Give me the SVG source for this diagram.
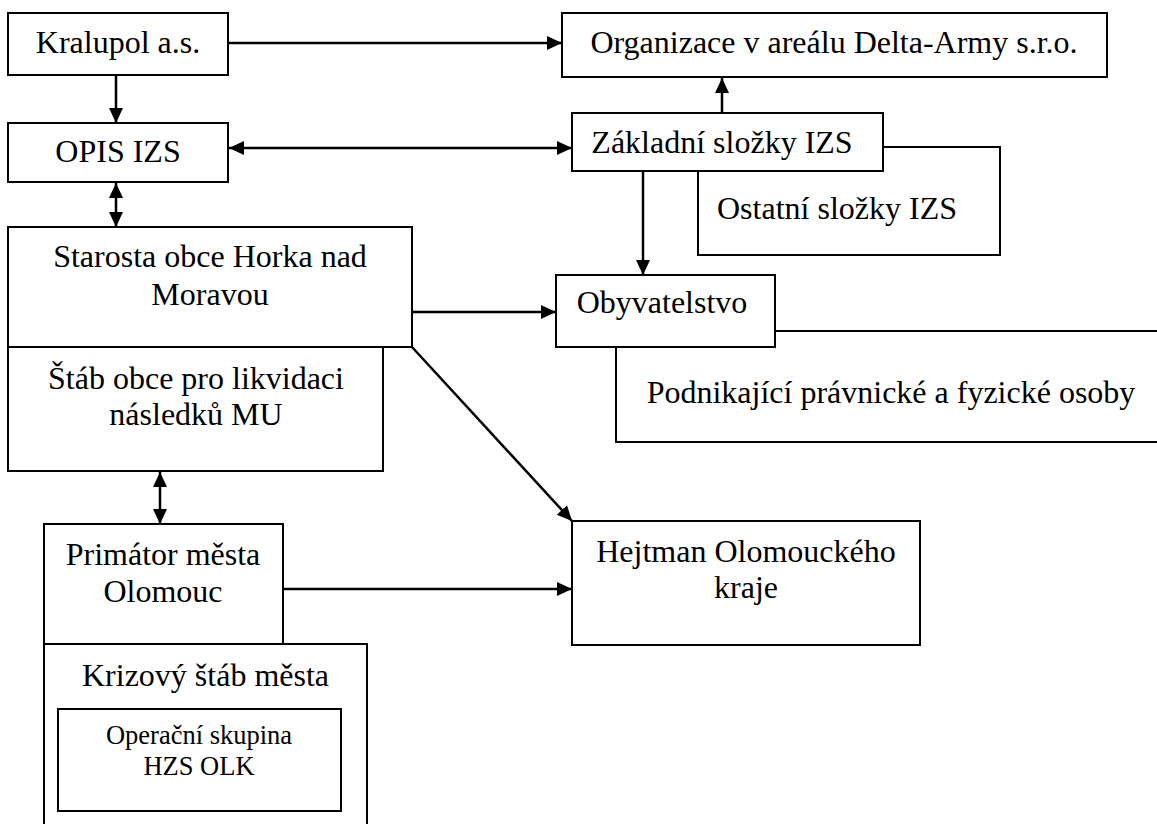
<svg xmlns="http://www.w3.org/2000/svg" width="1157" height="824" viewBox="0 0 1157 824">
<style>
  .box { fill: #ffffff; stroke: #000000; stroke-width: 2; }
  .t { font-family: "Liberation Serif", "Times New Roman", serif; font-size: 32px; fill: #000000; text-anchor: middle; }
  .ts { font-family: "Liberation Serif", "Times New Roman", serif; font-size: 26.5px; fill: #000000; text-anchor: middle; }
  .c { fill: none; stroke: #000000; stroke-width: 2.5; }
</style>
<defs>
  <marker id="ah" markerUnits="userSpaceOnUse" markerWidth="16" markerHeight="15" refX="15" refY="7" orient="auto-start-reverse" viewBox="0 0 16 15">
    <path d="M0,0 L15,7 L0,14 z" fill="#000000"/>
  </marker>
</defs>
<rect width="1157" height="824" fill="#ffffff"/>

<g id="kralupol">
  <rect class="box" x="8" y="13" width="220" height="62"/>
  <text class="t" x="118" y="53">Kralupol a.s.</text>
</g>
<g id="organizace">
  <rect class="box" x="562" y="13" width="545" height="64"/>
  <text class="t" x="834" y="53">Organizace v areálu Delta-Army s.r.o.</text>
</g>
<g id="opis">
  <rect class="box" x="8" y="123" width="220" height="59"/>
  <text class="t" x="118" y="162">OPIS IZS</text>
</g>
<g id="ostatni">
  <rect class="box" x="698" y="147" width="302" height="108"/>
  <text class="t" x="837" y="219">Ostatní složky IZS</text>
</g>
<g id="zakladni">
  <rect class="box" x="572" y="113" width="311" height="58"/>
  <text class="t" x="722" y="153">Základní složky IZS</text>
</g>
<g id="starosta">
  <rect class="box" x="8" y="227" width="404" height="120"/>
  <text class="t" x="210" y="267">Starosta obce Horka nad</text>
  <text class="t" x="210" y="305">Moravou</text>
</g>
<g id="stab">
  <rect class="box" x="8" y="347" width="375" height="124"/>
  <text class="t" x="196" y="389">Štáb obce pro likvidaci</text>
  <text class="t" x="196" y="425">následků MU</text>
</g>
<g id="podnikajici">
  <rect class="box" x="616" y="331" width="545" height="111"/>
  <text class="t" x="891" y="403">Podnikající právnické a fyzické osoby</text>
</g>
<g id="obyvatelstvo">
  <rect class="box" x="556" y="275" width="219" height="72"/>
  <text class="t" x="662" y="313">Obyvatelstvo</text>
</g>
<g id="hejtman">
  <rect class="box" x="572" y="521" width="348" height="124"/>
  <text class="t" x="746" y="562">Hejtman Olomouckého</text>
  <text class="t" x="746" y="598">kraje</text>
</g>
<g id="krizovy">
  <rect class="box" x="44" y="644" width="323" height="190"/>
  <text class="t" x="205.5" y="686">Krizový štáb města</text>
</g>
<g id="primator">
  <rect class="box" x="44" y="524" width="239" height="120"/>
  <text class="t" x="163" y="565">Primátor města</text>
  <text class="t" x="163" y="602">Olomouc</text>
</g>
<g id="operacni">
  <rect class="box" x="58" y="709" width="283" height="102"/>
  <text class="ts" x="199" y="744">Operační skupina</text>
  <text class="ts" x="199" y="775">HZS OLK</text>
</g>

<g id="connectors">
  <line class="c" x1="229" y1="43" x2="562" y2="43" marker-end="url(#ah)"/>
  <line class="c" x1="116" y1="76" x2="116" y2="123" marker-end="url(#ah)"/>
  <line class="c" x1="229" y1="148" x2="572" y2="148" marker-start="url(#ah)" marker-end="url(#ah)"/>
  <line class="c" x1="116" y1="183" x2="116" y2="227" marker-start="url(#ah)" marker-end="url(#ah)"/>
  <line class="c" x1="722" y1="112" x2="722" y2="78" marker-end="url(#ah)"/>
  <line class="c" x1="643" y1="172" x2="643" y2="275" marker-end="url(#ah)"/>
  <line class="c" x1="413" y1="312" x2="556" y2="312" marker-end="url(#ah)"/>
  <line class="c" x1="412" y1="347" x2="572" y2="521" marker-end="url(#ah)"/>
  <line class="c" x1="160" y1="472" x2="160" y2="524" marker-start="url(#ah)" marker-end="url(#ah)"/>
  <line class="c" x1="284" y1="589" x2="572" y2="589" marker-end="url(#ah)"/>
</g>
</svg>
